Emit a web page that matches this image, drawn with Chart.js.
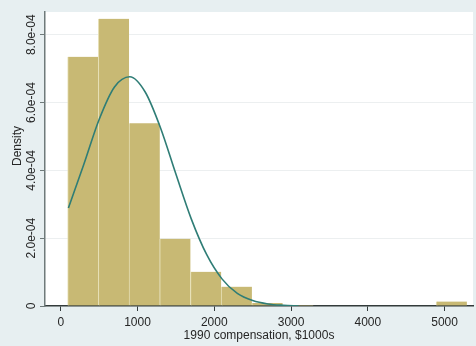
<!DOCTYPE html>
<html>
<head>
<meta charset="utf-8">
<script src="https://cdn.jsdelivr.net/npm/chart.js@4"></script>
<style>
  html, body { margin: 0; padding: 0; background: #e9f1f3; }
  #wrap { width: 476px; height: 346px; }
</style>
</head>
<body>
<div id="wrap"><canvas id="myChart" width="476" height="346"></canvas></div>
<script>
// histogram bins (centre of each $1000s bin, 400 wide) and their densities
const binCenters = [290, 690, 1090, 1490, 1890, 2290, 2690, 3090, 5090];
const binDensity = [7.35e-4, 8.47e-4, 5.39e-4, 1.98e-4, 1.01e-4, 0.57e-4, 0.09e-4, 0.03e-4, 0.13e-4];

// normal overlay
const curveX = [100, 300, 500, 700, 900, 1100, 1300, 1500, 1700, 1900, 2100, 2300, 2500, 2700, 2900, 3100];
const curveY = [2.89e-4, 4.17e-4, 5.50e-4, 6.46e-4, 6.76e-4, 6.31e-4, 5.25e-4, 3.89e-4, 2.57e-4,
                1.52e-4, 0.80e-4, 0.37e-4, 0.16e-4, 0.06e-4, 0.02e-4, 0];

// axis ticks
const xTickValues = [0, 1000, 2000, 3000, 4000, 5000];
const yTickValues = [0, 2e-4, 4e-4, 6e-4, 8e-4];
const yTickLabels = ['0', '2.0e-04', '4.0e-04', '6.0e-04', '8.0e-04'];

const FONT = '"Liberation Sans", Arial, sans-serif';
const TEXT = '#262626';

const bgPlugin = {
    id: 'bg',
    beforeDraw(chart) {
        const {ctx, chartArea: a} = chart;
        ctx.save();
        ctx.fillStyle = '#e7eff1';
        ctx.fillRect(0, 0, chart.width, chart.height);
        ctx.fillStyle = '#ffffff';
        ctx.fillRect(a.left, a.top, a.right - a.left, a.bottom - a.top);
        ctx.restore();
    }
};

// stata style vertical y labels
const yLabelPlugin = {
    id: 'yLabels',
    afterDraw(chart) {
        const {ctx} = chart;
        const y = chart.scales.y;
        ctx.save();
        ctx.fillStyle = TEXT;
        ctx.font = '12px ' + FONT;
        ctx.textAlign = 'center';
        ctx.textBaseline = 'middle';
        yTickValues.forEach((v, i) => {
            ctx.save();
            ctx.translate(32, y.getPixelForValue(v));
            ctx.rotate(-Math.PI / 2);
            ctx.fillText(yTickLabels[i], 0, 0);
            ctx.restore();
        });
        ctx.translate(18, 146);
        ctx.rotate(-Math.PI / 2);
        ctx.fillText('Density', 0, 0);
        ctx.restore();
    }
};

const ctx = document.getElementById('myChart').getContext('2d');
const myChart = new Chart(ctx, {
    type: 'bar',
    data: {
        datasets: [
            {
                type: 'line',
                data: curveX.map((x, i) => ({x: x, y: curveY[i]})),
                borderColor: '#2f7d76',
                borderWidth: 1.6,
                pointRadius: 0,
                cubicInterpolationMode: 'monotone',
                fill: false,
                order: 1
            },
            {
                type: 'bar',
                data: binCenters.map((x, i) => ({x: x, y: binDensity[i]})),
                backgroundColor: '#c8b974',
                borderColor: '#e6dfb4',
                borderWidth: {left: 1, right: 0, top: 0, bottom: 0},
                borderSkipped: false,
                barPercentage: 1,
                categoryPercentage: 1,
                order: 2
            }
        ]
    },
    options: {
        responsive: false,
        devicePixelRatio: 1,
        animation: false,
        layout: { padding: {top: 12, right: 3, left: 0, bottom: 0} },
        plugins: {
            legend: { display: false },
            tooltip: { enabled: false }
        },
        scales: {
            x: {
                type: 'linear',
                min: -205,
                max: 5370,
                offset: false,
                afterFit: (scale) => { scale.height = 40; },
                afterBuildTicks: (scale) => { scale.ticks = xTickValues.map(v => ({value: v})); },
                border: { display: true, color: '#333b3b', width: 1.5 },
                grid: { offset: false, drawOnChartArea: false, drawTicks: true, tickLength: 5, tickColor: '#333b3b', tickWidth: 1 },
                ticks: {
                    color: TEXT,
                    font: { family: FONT, size: 12 },
                    padding: 4,
                    maxRotation: 0,
                    callback: (v) => String(v)
                },
                title: {
                    display: true,
                    text: '1990 compensation, $1000s',
                    color: TEXT,
                    font: { family: FONT, size: 12 },
                    padding: {top: 0, bottom: 3}
                }
            },
            y: {
                min: 0,
                max: 8.67e-4,
                afterFit: (scale) => { scale.width = 45; },
                afterBuildTicks: (scale) => { scale.ticks = yTickValues.map(v => ({value: v})); },
                border: { display: true, color: '#6f7a7a', width: 1.5 },
                grid: {
                    drawTicks: true,
                    tickLength: 5,
                    tickColor: '#6f7a7a',
                    color: (c) => c.tick && c.tick.value === 0 ? 'rgba(0,0,0,0)' : '#eceff0',
                    lineWidth: 1
                },
                ticks: { display: false },
                title: { display: false }
            }
        }
    },
    plugins: [bgPlugin, yLabelPlugin]
});
</script>
</body>
</html>
